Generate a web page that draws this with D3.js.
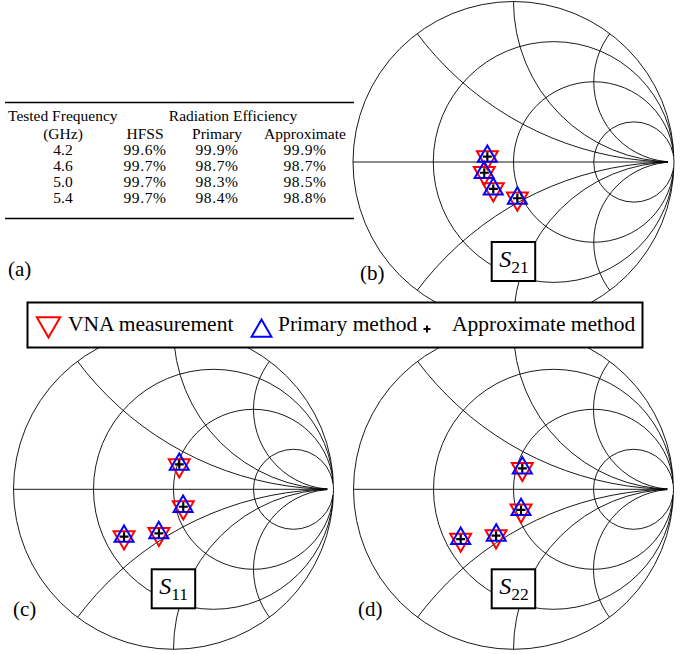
<!DOCTYPE html>
<html lang="en">

<head>
    <meta charset="UTF-8">
    <title>Smith charts</title>
    <script src="https://cdn.jsdelivr.net/npm/d3@7"></script>
    <style>
        body { margin: 0; background: #fff; }
        text { font-family: "Liberation Serif", "Times New Roman", "DejaVu Serif", serif; fill: #000; }
    </style>
</head>

<body>
    <div></div>
    <script>
        // table (a)
        var freqs = ["4.2", "4.6", "5.0", "5.4"];
        var hfss = ["99.6%", "99.7%", "99.7%", "99.7%"];
        var primaryEff = ["99.9%", "98.7%", "98.3%", "98.4%"];
        var approxEff = ["99.9%", "98.7%", "98.5%", "98.8%"];

        // smith grid
        var resist = [0, 1 / 3, 1, 3];
        var react = [0.5, 1, 2, -0.5, -1, -2];

        // points as [re, im] of gamma
        var s21Vna = [[-0.163, 0.030], [-0.182, -0.069], [-0.126, -0.170], [0.024, -0.228]];
        var s21Primary = [[-0.163, 0.035], [-0.183, -0.066], [-0.126, -0.168], [0.024, -0.226]];
        var s21Approx = [[-0.163, 0.033], [-0.182, -0.067], [-0.126, -0.168], [0.024, -0.226]];

        var s11Vna = [[0.036, 0.150], [0.061, -0.113], [-0.091, -0.279], [-0.309, -0.300]];
        var s11Primary = [[0.036, 0.156], [0.060, -0.107], [-0.092, -0.272], [-0.309, -0.294]];
        var s11Approx = [[0.036, 0.156], [0.061, -0.109], [-0.091, -0.275], [-0.309, -0.296]];

        var s22Vna = [[0.055, 0.127], [0.047, -0.133], [-0.109, -0.294], [-0.330, -0.315]];
        var s22Primary = [[0.055, 0.133], [0.047, -0.127], [-0.108, -0.287], [-0.330, -0.308]];
        var s22Approx = [[0.055, 0.131], [0.047, -0.129], [-0.109, -0.290], [-0.330, -0.311]];

        var legendNames = ["VNA measurement", "Primary method", "Approximate method"];

        var serif = "'Liberation Serif', 'Times New Roman', 'DejaVu Serif', serif";
        var w = 691, h = 654;
        var svg = d3.select("div").append("svg")
            .attr("width", w)
            .attr("height", h)
            .attr("font-family", serif);

        var triUp = d3.symbol().type(d3.symbolTriangle).size(156);
        var triDown = d3.symbol().type(d3.symbolTriangle).size(190);

        table();
        smith("b", 513.5, 162, 160.5, "21", s21Vna, s21Primary, s21Approx);
        smith("c", 173.5, 489.3, 160, "11", s11Vna, s11Primary, s11Approx);
        smith("d", 513.5, 489.3, 160, "22", s22Vna, s22Primary, s22Approx);
        legend();
        panelLabels();

        function table() {
            var g = svg.append("g");
            g.append("line").attr("x1", 5).attr("x2", 354).attr("y1", 102.5).attr("y2", 102.5)
                .attr("stroke", "#000").attr("stroke-width", 1.5);
            g.append("line").attr("x1", 5).attr("x2", 354).attr("y1", 218.5).attr("y2", 218.5)
                .attr("stroke", "#000").attr("stroke-width", 1.5);

            var fs = "15.5px";
            g.append("text").attr("x", 8).attr("y", 121).style("font-size", fs).text("Tested Frequency");
            g.append("text").attr("x", 233).attr("y", 121).attr("text-anchor", "middle")
                .style("font-size", fs).text("Radiation Efficiency");

            var cols = [63, 145, 217, 305];
            var heads = ["(GHz)", "HFSS", "Primary", "Approximate"];
            g.selectAll("text.head").data(heads).enter().append("text")
                .attr("class", "head")
                .attr("x", function(d, i) { return cols[i]; })
                .attr("y", 138.5)
                .attr("text-anchor", "middle")
                .style("font-size", fs)
                .text(function(d) { return d; });

            var rows = freqs.map(function(f, i) { return [f, hfss[i], primaryEff[i], approxEff[i]]; });
            var rowY = d3.scaleLinear().domain([0, 3]).range([154.8, 202.8]);
            rows.forEach(function(r, i) {
                g.selectAll("text.r" + i).data(r).enter().append("text")
                    .attr("class", "r" + i)
                    .attr("x", function(d, j) { return cols[j]; })
                    .attr("y", rowY(i))
                    .attr("text-anchor", "middle")
                    .style("font-size", fs)
                    .style("letter-spacing", function(d, j) { return j ? "0.6px" : "0px"; })
                    .text(function(d) { return d; });
            });
        }

        function smith(id, cx, cy, R, sub, vna, prim, appr) {
            var x = d3.scaleLinear().domain([-1, 1]).range([cx - R, cx + R]);
            var y = d3.scaleLinear().domain([-1, 1]).range([cy + R, cy - R]);
            var k = R; // pixels per unit

            var defs = svg.append("defs");
            defs.append("clipPath").attr("id", "clip" + id)
                .append("circle").attr("cx", x(0)).attr("cy", y(0)).attr("r", k);
            var m = defs.append("mask").attr("id", "mask" + id);
            m.append("rect").attr("x", 0).attr("y", 0).attr("width", w).attr("height", h).attr("fill", "#fff");
            m.append("circle").attr("cx", x(1)).attr("cy", y(0)).attr("r", 6).attr("fill", "#000");

            var g = svg.append("g");
            var grid = g.append("g")
                .attr("clip-path", "url(#clip" + id + ")")
                .append("g")
                .attr("mask", "url(#mask" + id + ")")
                .attr("fill", "none")
                .attr("stroke", "#000")
                .attr("stroke-width", 0.9);

            grid.selectAll("circle.r").data(resist.slice(1)).enter().append("circle")
                .attr("class", "r")
                .attr("cx", function(d) { return x(d / (1 + d)); })
                .attr("cy", y(0))
                .attr("r", function(d) { return k / (1 + d); });

            grid.selectAll("circle.x").data(react).enter().append("circle")
                .attr("class", "x")
                .attr("cx", x(1))
                .attr("cy", function(d) { return y(1 / d); })
                .attr("r", function(d) { return k / Math.abs(d); });

            grid.append("line")
                .attr("x1", x(-1)).attr("x2", x(1))
                .attr("y1", y(0)).attr("y2", y(0));

            g.append("circle")
                .attr("cx", x(0)).attr("cy", y(0)).attr("r", k)
                .attr("fill", "none").attr("stroke", "#000").attr("stroke-width", 0.9);

            // markers
            g.selectAll("path.vna").data(vna).enter().append("path")
                .attr("class", "vna")
                .attr("d", triDown)
                .attr("transform", function(d) { return "translate(" + x(d[0]) + "," + y(d[1]) + ") rotate(180)"; })
                .attr("fill", "none").attr("stroke", "#ff0000").attr("stroke-width", 2);
            g.selectAll("path.prim").data(prim).enter().append("path")
                .attr("class", "prim")
                .attr("d", triUp)
                .attr("transform", function(d) { return "translate(" + x(d[0]) + "," + y(d[1]) + ")"; })
                .attr("fill", "none").attr("stroke", "#0000ff").attr("stroke-width", 2);
            g.selectAll("path.appr").data(appr).enter().append("path")
                .attr("class", "appr")
                .attr("d", "M-4.5,0H4.5M0,-4.5V4.5")
                .attr("transform", function(d) { return "translate(" + x(d[0]) + "," + y(d[1]) + ")"; })
                .attr("fill", "none").attr("stroke", "#000").attr("stroke-width", 2.2);

            // S-parameter box
            var bx = x(0) - 21.8, by = cy + 80;
            g.append("rect").attr("x", bx).attr("y", by).attr("width", 43.5).attr("height", 39)
                .attr("fill", "#fff").attr("stroke", "#000").attr("stroke-width", 2);
            var t = g.append("text").attr("x", bx + 7.5).attr("y", by + 25);
            t.append("tspan").style("font-size", "24px").style("font-style", "italic").text("S");
            t.append("tspan").style("font-size", "17.5px").attr("dy", 5.5).attr("dx", 0).text(sub);
        }

        function legend() {
            var g = svg.append("g");
            g.append("rect").attr("x", 27.5).attr("y", 302.5).attr("width", 615).attr("height", 45)
                .attr("fill", "#fff").attr("stroke", "#000").attr("stroke-width", 2);
            g.append("path").attr("d", d3.symbol().type(d3.symbolTriangle).size(235))
                .attr("transform", "translate(48.5,324) rotate(180)")
                .attr("fill", "none").attr("stroke", "#ff0000").attr("stroke-width", 2);
            g.append("path").attr("d", d3.symbol().type(d3.symbolTriangle).size(170))
                .attr("transform", "translate(261.5,331)")
                .attr("fill", "none").attr("stroke", "#0000ff").attr("stroke-width", 2);
            g.append("path").attr("d", "M-3.5,0H3.5M0,-3.5V3.5")
                .attr("transform", "translate(427,329)")
                .attr("fill", "none").attr("stroke", "#000").attr("stroke-width", 2);
            var tx = [68, 278, 452];
            g.selectAll("text").data(legendNames).enter().append("text")
                .attr("x", function(d, i) { return tx[i]; })
                .attr("y", 331)
                .attr("font-family", serif)
                .style("font-size", "21.5px")
                .text(function(d) { return d; });
        }

        function panelLabels() {
            var labs = [["(a)", 8, 276], ["(b)", 360, 280], ["(c)", 13, 616], ["(d)", 358, 616]];
            svg.selectAll("text.panel").data(labs).enter().append("text")
                .attr("class", "panel")
                .attr("x", function(d) { return d[1]; })
                .attr("y", function(d) { return d[2]; })
                .style("font-size", "21px")
                .text(function(d) { return d[0]; });
        }
    </script>
</body>

</html>
